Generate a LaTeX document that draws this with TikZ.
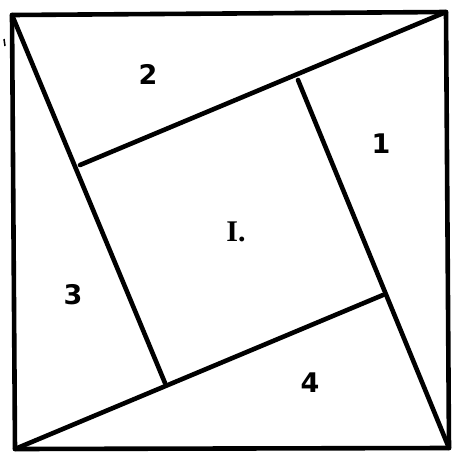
\documentclass[tikz,border=0pt]{standalone}
\usepackage{fontspec}
\setmainfont{DejaVu Sans}
\newfontfamily\serifI{Liberation Serif}
\begin{document}
\begin{tikzpicture}[x=1pt,y=-1pt,
  stroke/.style={line width=4.6pt,line cap=round,line join=round},
  lbl/.style={font=\fontsize{27}{29}\selectfont\bfseries}]
\useasboundingbox (0,0) rectangle (456,456);
\coordinate (TL) at (12,15);
\coordinate (TR) at (446,12);
\coordinate (BR) at (449,448);
\coordinate (BL) at (15,449);
\coordinate (a) at (80,165);
\coordinate (b) at (298,80);
\coordinate (c) at (383,295);
\coordinate (d) at (165,383);
\draw[stroke] (TL) -- (TR) -- (BR) -- (BL) -- cycle;
\draw[stroke] (TL) -- (d);
\draw[stroke] (TR) -- (a);
\draw[stroke] (BR) -- (b);
\draw[stroke] (BL) -- (c);
\draw[line width=1.5pt] (4,39) -- (5,46);
\node[lbl] (n2) at (148,74) {2};
\node[lbl] (n1) at (381,144) {1};
\node[lbl,font=\fontsize{30}{32}\selectfont\serifI\bfseries] (n0) at (236,232) {I.};
\node[lbl] (n3) at (73,295) {3};
\node[lbl] (n4) at (310,383) {4};
\end{tikzpicture}
\end{document}
